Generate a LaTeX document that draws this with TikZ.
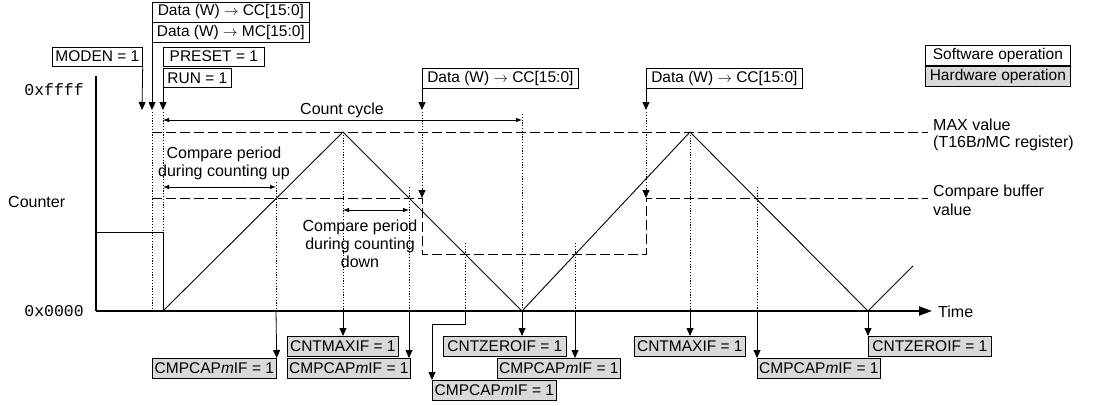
\documentclass[tikz,border=0pt]{standalone}
\usepackage{fontspec}
\setmainfont{Liberation Sans}
\newfontfamily\monofont{Liberation Mono}
\usetikzlibrary{arrows.meta}
\newcommand\bfs{\fontsize{15.5}{17.5}\selectfont}
\newcommand\ffs{\fontsize{16}{18}\selectfont}
\tikzset{
  swbox/.style={draw, fill=white, line width=0.7pt, inner sep=0pt, minimum height=20pt, font=\bfs, anchor=north west},
  hwbox/.style={swbox, fill=black!15},
  arr/.style={line width=0.8pt, -{Triangle[length=8pt,width=7pt]}},
  dotl/.style={line width=0.7pt, dash pattern=on 1.2pt off 1.6pt},
  dashl/.style={line width=0.9pt, dash pattern=on 10pt off 4pt},
  dimarr/.style={line width=0.8pt, {Latex[length=6pt,width=4.5pt]}-{Latex[length=6pt,width=4.5pt]}},
  txt/.style={font=\ffs, inner sep=0pt, align=center},
  rlab/.style={font=\ffs, inner sep=0pt, anchor=west},
  ramp/.style={line width=0.9pt},
  axisl/.style={line width=2pt},
  mono/.style={font=\monofont\fontsize{16.5}{18}\selectfont, inner sep=0pt, anchor=east},
}
\begin{document}
\begin{tikzpicture}[x=1pt,y=-1pt]
\useasboundingbox (0,0) rectangle (1109,405);
% left labels
\node[mono] (ffff) at (84,90) {0xffff};
\node[mono] (zero) at (84,311) {0x0000};
\node[font=\ffs, inner sep=0pt, anchor=west] (cnt) at (8,202) {Counter};
% axes
\coordinate (O) at (96,311);
\coordinate (ytop) at (96,76);
\coordinate (xend) at (932,311);
% dashed reference lines
\draw[dashl] (152,132) -- (928,132);
\draw[dashl] (152,198) -- (422,198) -- (422,254) -- (646,254) -- (646,198) -- (928,198);
% dotted verticals
\draw[dotl] (152,112) -- (152,311);
\draw[dotl] (163,112) -- (163,232);
\draw[dotl] (276,182) -- (276,311);
\draw[dotl] (343,132) -- (343,311);
\draw[dotl] (409,187) -- (409,311);
\draw[dotl] (422,112) -- (422,191);
\draw[dotl] (465,243) -- (465,311);
\draw[dotl] (522,114) -- (522,311);
\draw[dotl] (575,243) -- (575,311);
\draw[dotl] (646,112) -- (646,191);
\draw[dotl] (690,132) -- (690,311);
\draw[dotl] (757,187) -- (757,311);
% write arrows onto compare buffer
\coordinate (w1a) at (422,189); \coordinate (w1b) at (422,198);
\coordinate (w2a) at (646,189); \coordinate (w2b) at (646,198);
\draw[arr] (w1a) -- (w1b);
\draw[arr] (w2a) -- (w2b);
% counter waveform
\draw[ramp] (96,232) -- (163,232) -- (163,311);
\coordinate (s0) at (163,311);
\coordinate (p1) at (343,132);
\coordinate (v1) at (522,311);
\coordinate (p2) at (690,132);
\coordinate (v2) at (868,311);
\coordinate (e) at (913,266);
\draw[ramp] (s0) -- (p1) -- (v1) -- (p2) -- (v2) -- (e);
% axes on top
\draw[axisl] (ytop) -- (O);
\draw[axisl, -{Triangle[length=13pt,width=9pt]}] (O) -- (xend);
\node[rlab] (time) at (938,312) {Time};
% right labels
\node[rlab] (maxv) at (933,125) {MAX value};
\node[rlab] (maxr) at (933,143) {(T16B\textit{n}MC register)};
\node[rlab] (cbv) at (933,192) {Compare buffer};
\node[rlab] (cbv2) at (933,210) {value};
% legend
\node[swbox, minimum width=145pt] (sw) at (925,45) {Software operation};
\node[hwbox, minimum width=145pt] (hw) at (925,66) {Hardware operation};
% top software boxes
\node[swbox, minimum width=157pt] (dcc) at (152,1.5) {Data (W) $\rightarrow$ CC[15:0]};
\node[swbox, minimum width=157pt] (dmc) at (152,22) {Data (W) $\rightarrow$ MC[15:0]};
\node[swbox, minimum width=90pt, minimum height=19pt] (moden) at (52,46.5) {MODEN = 1};
\node[swbox, minimum width=101pt, minimum height=19pt] (preset) at (163,46.5) {PRESET = 1};
\node[swbox, minimum width=68pt, minimum height=19pt] (run) at (163,68) {RUN = 1};
\coordinate (a0) at (142,110);
\coordinate (a1) at (152,110);
\coordinate (a2) at (163,110);
\draw[arr] (moden.south east) -- (a0);
\draw[arr] (dmc.south west) -- (a1);
\draw[arr] (run.south west) -- (a2);
\node[swbox, minimum width=156pt] (dcc2) at (422,68) {Data (W) $\rightarrow$ CC[15:0]};
\node[swbox, minimum width=156pt] (dcc3) at (646,68) {Data (W) $\rightarrow$ CC[15:0]};
\coordinate (a3) at (422,110);
\coordinate (a4) at (646,110);
\draw[arr] (dcc2.south west) -- (a3);
\draw[arr] (dcc3.south west) -- (a4);
% dimension arrows
\coordinate (cc1) at (163,120); \coordinate (cc2) at (522,120);
\draw[dimarr] (cc1) -- (cc2);
\node[txt] (cctxt) at (342,110) {Count cycle};
\coordinate (cu1) at (163,187); \coordinate (cu2) at (276,187);
\draw[dimarr] (cu1) -- (cu2);
\node[txt] (cutxt) at (224,163) {Compare period\\during counting up};
\coordinate (cd1) at (343,210); \coordinate (cd2) at (409,210);
\draw[dimarr] (cd1) -- (cd2);
\node[txt] (cdtxt) at (360,244) {Compare period\\during counting\\down};
% hardware flags
\node[hwbox, minimum width=124pt] (f1) at (152,358) {CMPCAP\textit{m}IF = 1};
\node[hwbox, minimum width=111pt] (m1) at (287,336) {CNTMAXIF = 1};
\node[hwbox, minimum width=123pt] (f2) at (287,358) {CMPCAP\textit{m}IF = 1};
\node[hwbox, minimum width=123pt] (z1) at (443,336) {CNTZEROIF = 1};
\node[hwbox, minimum width=123pt] (f3) at (497,358) {CMPCAP\textit{m}IF = 1};
\node[hwbox, minimum width=124pt] (f4) at (432,380) {CMPCAP\textit{m}IF = 1};
\node[hwbox, minimum width=111pt] (m2) at (634,336) {CNTMAXIF = 1};
\node[hwbox, minimum width=123pt] (f5) at (757,358) {CMPCAP\textit{m}IF = 1};
\node[hwbox, minimum width=123pt] (z2) at (868,336) {CNTZEROIF = 1};
\coordinate (t276) at (276,311);
\coordinate (t343) at (343,311);
\coordinate (t409) at (409,311);
\coordinate (t465) at (465,311);
\coordinate (t522) at (522,311);
\coordinate (t575) at (575,311);
\coordinate (t690) at (690,311);
\coordinate (t757) at (757,311);
\coordinate (t868) at (868,311);
\draw[arr] (t276) -- (f1.north east);
\draw[arr] (t343) -- (t343 |- m1.north);
\draw[arr] (t409) -- (t409 |- f2.north);
\draw[arr] (t465) -- (465,324) -| (f4.north west);
\draw[arr] (t522) -- (t522 |- z1.north);
\draw[arr] (t575) -- (t575 |- f3.north);
\draw[arr] (t690) -- (t690 |- m2.north);
\draw[arr] (t757) -- (f5.north west);
\draw[arr] (t868) -- (z2.north west);
\end{tikzpicture}
\end{document}
